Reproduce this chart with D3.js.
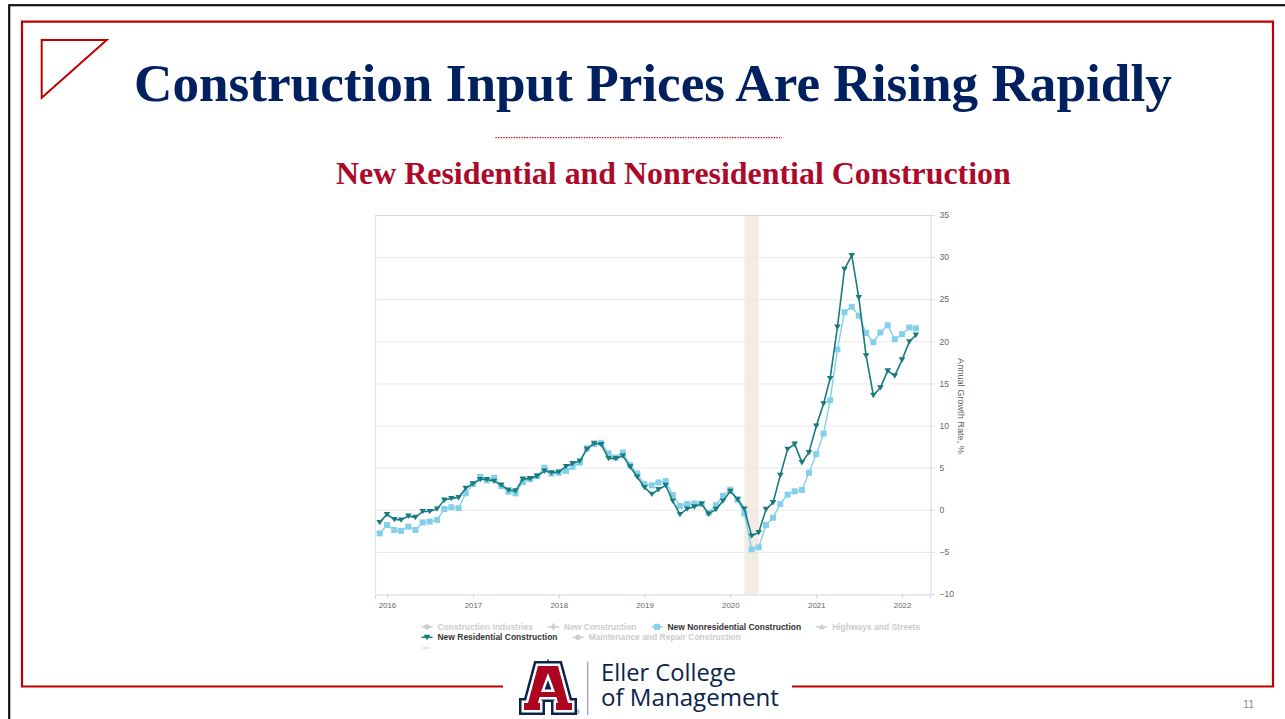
<!DOCTYPE html>
<html>
<head>
<meta charset="utf-8">
<script src="https://cdn.jsdelivr.net/npm/d3@7"></script>
<style>
  html, body { margin: 0; padding: 0; background: #ffffff; }
  svg { display: block; }
</style>
</head>
<body>
<svg id="chart" width="1285" height="719"></svg>
<script>
// ---------------- DATA ----------------
const months = [
  "2015-12",
  "2016-01","2016-02","2016-03","2016-04","2016-05","2016-06","2016-07","2016-08","2016-09","2016-10","2016-11","2016-12",
  "2017-01","2017-02","2017-03","2017-04","2017-05","2017-06","2017-07","2017-08","2017-09","2017-10","2017-11","2017-12",
  "2018-01","2018-02","2018-03","2018-04","2018-05","2018-06","2018-07","2018-08","2018-09","2018-10","2018-11","2018-12",
  "2019-01","2019-02","2019-03","2019-04","2019-05","2019-06","2019-07","2019-08","2019-09","2019-10","2019-11","2019-12",
  "2020-01","2020-02","2020-03","2020-04","2020-05","2020-06","2020-07","2020-08","2020-09","2020-10","2020-11","2020-12",
  "2021-01","2021-02","2021-03","2021-04","2021-05","2021-06","2021-07","2021-08","2021-09","2021-10","2021-11","2021-12",
  "2022-01","2022-02","2022-03"
];

const newNonresidential = [
  -2.8,
  -1.8, -2.4, -2.5, -2.0, -2.4, -1.5, -1.4, -1.2, 0.1, 0.3, 0.2, 1.95,
  3.05, 3.9, 3.5, 3.8, 2.8, 2.15, 1.95, 3.3, 3.65, 4.0, 5.0, 4.3,
  4.4, 4.6, 5.1, 5.6, 7.3, 7.8, 7.95, 6.7, 6.2, 6.8, 5.3, 4.3,
  3.05, 2.9, 3.25, 3.4, 1.75, 0.45, 0.7, 0.75, 0.7, -0.35, 0.55, 1.65,
  2.4, 1.2, -0.45, -4.7, -4.45, -1.8, -0.95, 0.7, 1.8, 2.2, 2.35, 4.4,
  6.6, 9.05, 13.0, 19.05, 23.45, 24.1, 23.05, 21.0, 19.9, 21.05, 21.9, 20.25,
  20.85, 21.65, 21.55
];

const newResidential = [
  -1.5,
  -0.55, -1.15, -1.2, -0.75, -0.9, -0.2, -0.2, 0.1, 1.15, 1.35, 1.45, 2.55,
  3.1, 3.6, 3.6, 3.4, 2.95, 2.35, 2.25, 3.65, 3.7, 4.0, 4.6, 4.4,
  4.5, 5.15, 5.5, 5.8, 7.2, 7.9, 7.75, 6.1, 6.1, 6.4, 5.1, 3.9,
  2.65, 1.85, 2.4, 2.9, 1.05, -0.55, 0.1, 0.35, 0.7, -0.5, 0.05, 1.05,
  2.2, 1.25, 0.1, -3.1, -2.7, 0.05, 0.85, 4.1, 7.2, 7.8, 5.6, 6.8,
  9.95, 12.6, 15.6, 21.7, 28.55, 30.2, 25.2, 18.3, 13.6, 14.5, 16.5, 15.9,
  17.8, 19.95, 20.75
];

const yearTicks = ["2016","2017","2018","2019","2020","2021","2022"];
const yTicks = [-10, -5, 0, 5, 10, 15, 20, 25, 30, 35];
const recession = ["2020-03-01", "2020-05-01"];

const legendRow1 = ["Construction Industries", "New Construction", "New Nonresidential Construction", "Highways and Streets"];
const legendRow2 = ["New Residential Construction", "Maintenance and Repair Construction"];
const activeSeries = ["New Nonresidential Construction", "New Residential Construction"];

const titleText = "Construction Input Prices Are Rising Rapidly";
const subtitleText = "New Residential and Nonresidential Construction";
const yAxisTitle = "Annual Growth Rate, %";
const logoLines = ["Eller College", "of Management"];
const pageNumber = "11";

// ---------------- DRAW ----------------
const svg = d3.select("#chart");
const parseM = d3.utcParse("%Y-%m");
const parseD = d3.utcParse("%Y-%m-%d");

function fitWidth(sel, target) {
  const w = sel.node().getComputedTextLength();
  const fs = parseFloat(sel.attr("font-size"));
  if (w > 0) sel.attr("font-size", fs * target / w);
  return sel;
}

// Slide frame
svg.append("rect").attr("x", 9.2).attr("y", 5.2).attr("width", 1300).attr("height", 730)
  .attr("fill", "none").attr("stroke", "#111").attr("stroke-width", 2.2);

const red = "#c00000";
svg.append("path")
  .attr("d", "M503,686.5 L22,686.5 L22,21.7 L1273,21.7 L1273,686.5 L792,686.5")
  .attr("fill", "none").attr("stroke", red).attr("stroke-width", 2.2);

svg.append("path").attr("d", "M41.7,40 L106.7,40 L41.7,97.7 Z")
  .attr("fill", "none").attr("stroke", red).attr("stroke-width", 2);

// Title
const title = svg.append("text").text(titleText)
  .attr("x", 134).attr("y", 101)
  .attr("font-family", "'Liberation Serif','Times New Roman',serif")
  .attr("font-weight", "bold").attr("font-size", 52).attr("fill", "#002060");
fitWidth(title, 1038);

svg.append("line").attr("x1", 495.5).attr("x2", 782).attr("y1", 137.7).attr("y2", 137.7)
  .attr("stroke", red).attr("stroke-width", 1.3).attr("stroke-dasharray", "1.3,1.3");

const sub = svg.append("text").text(subtitleText)
  .attr("x", 336).attr("y", 184.3)
  .attr("font-family", "'Liberation Serif','Times New Roman',serif")
  .attr("font-weight", "bold").attr("font-size", 30).attr("fill", "#ad0a2b");
fitWidth(sub, 675);

// ---------- Chart ----------
const x = d3.scaleUtc()
  .domain([parseD("2015-11-11"), parseD("2022-04-30")])
  .range([375, 930]);
const y = d3.scaleLinear().domain([-10, 35]).range([594, 215]);

const g = svg.append("g");

g.append("line").attr("x1", 375.5).attr("x2", 375.5).attr("y1", 215).attr("y2", 594)
  .attr("stroke", "#e3e3e3").attr("stroke-width", 1.2);

g.append("rect")
  .attr("x", x(parseD(recession[0]))).attr("y", 215)
  .attr("width", x(parseD(recession[1])) - x(parseD(recession[0])))
  .attr("height", 594 - 215)
  .attr("fill", "#f3ece4");

g.selectAll("line.grid").data(yTicks.filter(d => d > -10)).join("line")
  .attr("class", "grid")
  .attr("x1", 375).attr("x2", 930)
  .attr("y1", d => y(d) + 0.5).attr("y2", d => y(d) + 0.5)
  .attr("stroke", d => d === 35 ? "#d9d9d9" : "#e9e9e9").attr("stroke-width", 1);

const xAxis = d3.axisBottom(x)
  .tickValues(yearTicks.map(s => d3.utcParse("%Y")(s)))
  .tickFormat(d3.utcFormat("%Y"))
  .tickSize(4).tickPadding(4);
const xg = g.append("g").attr("transform", "translate(0,594.5)").call(xAxis);
xg.select(".domain").attr("stroke", "#ccd6eb");
xg.selectAll(".tick line").attr("stroke", "#ccd6eb");
xg.selectAll(".tick text").attr("font-family", "'Liberation Sans',Arial,sans-serif")
  .attr("font-size", 7.9).attr("fill", "#666");

const yAxis = d3.axisRight(y).tickValues(yTicks).tickSize(4).tickPadding(5)
  .tickFormat(d3.format("d"));
const yg = g.append("g").attr("transform", "translate(930.5,0)").call(yAxis);
yg.select(".domain").attr("stroke", "#ccd6eb");
yg.selectAll(".tick line").attr("stroke", "#ccd6eb");
yg.selectAll(".tick text").attr("font-family", "'Liberation Sans',Arial,sans-serif")
  .attr("font-size", 8.6).attr("fill", "#666");

const yt = g.append("text").text(yAxisTitle)
  .attr("transform", "translate(958,406) rotate(90)")
  .attr("text-anchor", "middle")
  .attr("font-family", "'Liberation Sans',Arial,sans-serif")
  .attr("font-size", 8.5).attr("fill", "#666");
fitWidth(yt, 96);

// series
const dates = months.map(parseM);
const line = d3.line().x(d => x(d[0])).y(d => y(d[1]));
const colNon = "#84cfe9";
const colRes = "#187b7f";

const nonData = dates.map((d, i) => [d, newNonresidential[i]]);
const resData = dates.map((d, i) => [d, newResidential[i]]);

g.append("path").datum(nonData).attr("d", line)
  .attr("fill", "none").attr("stroke", colNon).attr("stroke-width", 1.4);
g.selectAll("rect.mk").data(nonData).join("rect").attr("class", "mk")
  .attr("x", d => x(d[0]) - 3).attr("y", d => y(d[1]) - 3)
  .attr("width", 6).attr("height", 6).attr("fill", colNon);

const triDown = "M-3.3,-2.5 L3.3,-2.5 L0,2.9 Z";
g.append("path").datum(resData).attr("d", line)
  .attr("fill", "none").attr("stroke", colRes).attr("stroke-width", 1.6);
g.selectAll("path.mk").data(resData).join("path").attr("class", "mk")
  .attr("d", triDown)
  .attr("transform", d => `translate(${x(d[0])},${y(d[1])})`)
  .attr("fill", colRes);

// ---------- Legend ----------
const symPaths = {
  "Construction Industries": d3.symbol(d3.symbolCircle, 22)(),
  "New Construction": d3.symbol(d3.symbolDiamond, 18)(),
  "New Nonresidential Construction": "M-3,-3 L3,-3 L3,3 L-3,3 Z",
  "Highways and Streets": "M-3,2.4 L3,2.4 L0,-2.8 Z",
  "New Residential Construction": triDown,
  "Maintenance and Repair Construction": d3.symbol(d3.symbolCircle, 22)()
};
const symColor = { "New Nonresidential Construction": colNon, "New Residential Construction": colRes };
const lg = svg.append("g");
const legFont = "'Liberation Sans',Arial,sans-serif";

const SYM = 11, PAD = 5, GAP = 15;
const probe = lg.append("text").attr("font-family", legFont).attr("font-weight", "bold").attr("font-size", 10);
let sumW = 0;
legendRow1.forEach(n => { probe.text(n); sumW += probe.node().getComputedTextLength(); });
probe.remove();
const rowSpan = 921 - 421.5;
const fixed = legendRow1.length * (SYM + PAD) + (legendRow1.length - 1) * GAP;
const legendFontSize = 10 * (rowSpan - fixed) / sumW;

function drawRow(items, yc) {
  let cx = 421.5;
  items.forEach(name => {
    const active = activeSeries.includes(name);
    const col = active ? symColor[name] : "#cccccc";
    lg.append("line").attr("x1", cx).attr("x2", cx + SYM).attr("y1", yc).attr("y2", yc)
      .attr("stroke", col).attr("stroke-width", 1.5);
    lg.append("path").attr("d", symPaths[name])
      .attr("transform", `translate(${cx + SYM / 2},${yc})`).attr("fill", col);
    const t = lg.append("text").text(name)
      .attr("x", cx + SYM + PAD).attr("y", yc + 2.9)
      .attr("font-family", legFont)
      .attr("font-weight", "bold").attr("font-size", legendFontSize)
      .attr("fill", active ? "#333333" : "#cccccc");
    cx += SYM + PAD + t.node().getComputedTextLength() + GAP;
  });
}
drawRow(legendRow1, 626.8);
drawRow(legendRow2, 637.3);

lg.append("line").attr("x1", 422).attr("x2", 430).attr("y1", 648).attr("y2", 648)
  .attr("stroke", "#a9dcef").attr("stroke-width", 1);

// ---------- Footer logo ----------
const logo = svg.append("g").attr("transform", "translate(518,661)");
const aPath = "M20,5 L40,5 L50,42 L54,42 L54,49 L38,49 L38,42 L40,42 L38.5,36 L21.5,36 L20,42 L22,42 L22,49 L6,49 L6,42 L10,42 Z " +
              "M23,31 L37,31 L30,12 Z";
logo.append("path").attr("d", aPath).attr("fill", "#0c234b").attr("fill-rule", "evenodd")
  .attr("stroke", "#0c234b").attr("stroke-width", 10).attr("stroke-linejoin", "miter");
logo.append("path").attr("d", aPath).attr("fill", "#ffffff").attr("fill-rule", "evenodd")
  .attr("stroke", "#ffffff").attr("stroke-width", 5).attr("stroke-linejoin", "miter");
logo.append("path").attr("d", aPath).attr("fill", "#ab0520").attr("fill-rule", "evenodd");
logo.append("text").text("®").attr("x", 58).attr("y", 52.5)
  .attr("font-family", "'Liberation Sans',Arial,sans-serif").attr("font-size", 5).attr("fill", "#0c234b");

svg.append("line").attr("x1", 587.7).attr("x2", 587.7).attr("y1", 661.5).attr("y2", 715)
  .attr("stroke", "#8f98ad").attr("stroke-width", 1.2);

// two-line wordmark as one text element
const wm = svg.append("text")
  .attr("font-family", "'Open Sans','Noto Sans',sans-serif")
  .attr("fill", "#0c234b");
const wmTargets = [135, 178];
const wmY = [681, 706];
logoLines.forEach((s, i) => {
  const ts = wm.append("tspan").text(s).attr("x", 601).attr("y", wmY[i]).attr("font-size", 24);
  const w = ts.node().getComputedTextLength();
  if (w > 0) ts.attr("font-size", 24 * wmTargets[i] / w);
});

svg.append("text").text(pageNumber).attr("x", 1243).attr("y", 708)
  .attr("font-family", "'Liberation Sans',Arial,sans-serif")
  .attr("font-size", 11).attr("fill", "#8c8c8c");
</script>
</body>
</html>
